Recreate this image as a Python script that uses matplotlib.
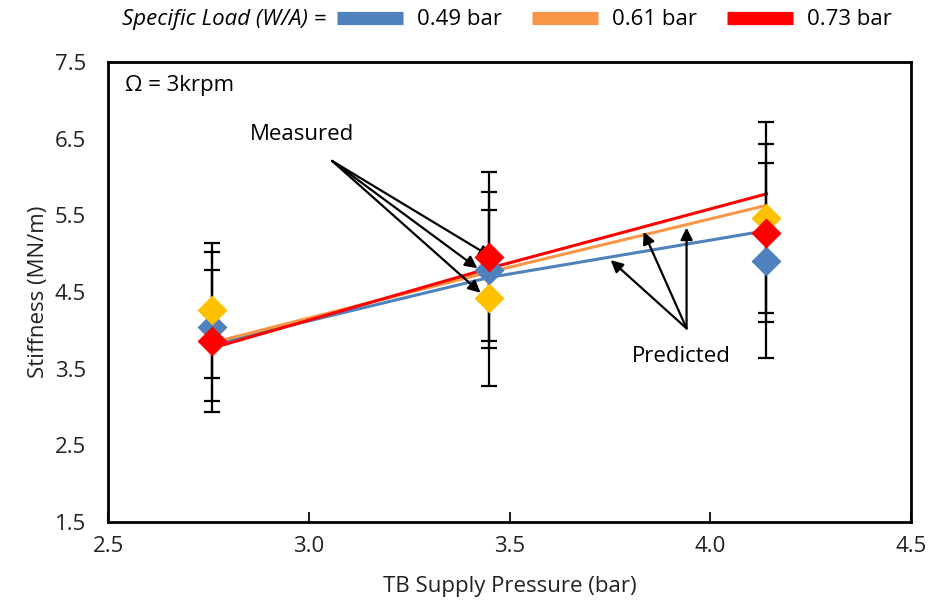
import matplotlib
matplotlib.use("Agg")
import matplotlib.pyplot as plt
from matplotlib.lines import Line2D

plt.rcParams['font.family'] = ['Open Sans', 'DejaVu Sans']

# supply pressure (bar)
pressure = [2.76, 3.45, 4.14]
loads = ['0.49 bar', '0.61 bar', '0.73 bar']

# measured stiffness (MN/m) and uncertainty
meas_049 = [4.05, 4.79, 4.91]
meas_061 = [4.26, 4.42, 5.47]
meas_073 = [3.86, 4.96, 5.27]
err_049 = [0.97, 1.02, 1.27]
err_061 = [0.88, 1.15, 1.25]
err_073 = [0.93, 1.10, 1.16]

# predicted stiffness (MN/m)
pred_049 = [3.82, 4.69, 5.30]
pred_061 = [3.84, 4.76, 5.63]
pred_073 = [3.77, 4.81, 5.78]

line_cols = ['#4F81BD', '#F79646', '#FF0000']
mark_cols = ['#4F81BD', '#FFC000', '#FF0000']

fig = plt.figure(figsize=(9.33, 6.05), dpi=100)
ax = fig.add_axes([0.1158, 0.1372, 0.8606, 0.7603])

# predicted lines
for p, c in zip([pred_049, pred_061, pred_073], line_cols):
    ax.plot(pressure, p, color=c, lw=2.2, zorder=2)

# measured points with error bars
for m, e, c in zip([meas_049, meas_061, meas_073], [err_049, err_061, err_073], mark_cols):
    ax.errorbar(pressure, m, yerr=e, fmt='none', ecolor='black', elinewidth=1.6,
                capsize=6, capthick=1.6, zorder=3)
for m, c in zip([meas_049, meas_061, meas_073], mark_cols):
    ax.plot(pressure, m, 'D', color=c, ms=15, mec='none', zorder=4)

ax.set_xlim(2.5, 4.5)
ax.set_ylim(1.5, 7.5)
ax.set_xticks([2.5, 3.0, 3.5, 4.0, 4.5])
ax.set_xticklabels(['2.5', '3.0', '3.5', '4.0', '4.5'])
ax.set_yticks([1.5, 2.5, 3.5, 4.5, 5.5, 6.5, 7.5])
ax.tick_params(axis='x', direction='in', length=7, width=1.5, labelsize=16, pad=10, colors='#222222')
ax.tick_params(axis='y', length=0, labelsize=16, pad=16, colors='#222222')
for s in ax.spines.values():
    s.set_linewidth(2)
ax.set_xlabel('TB Supply Pressure (bar)', fontsize=16, labelpad=14, color='#222222')
ax.set_ylabel('Stiffness (MN/m)', fontsize=16, labelpad=4, color='#222222')

ax.text(0.021, 0.95, 'Ω = 3krpm', transform=ax.transAxes, fontsize=16, va='center', ha='left')

# annotations
arrow = dict(arrowstyle='-|>', color='black', lw=1.6, mutation_scale=18, shrinkA=0, shrinkB=0)
ax.text(2.984, 6.56, 'Measured', fontsize=16, ha='center', va='center')
for hx, hy in [(3.455, 4.955), (3.42, 4.81), (3.428, 4.49)]:
    ax.annotate('', xy=(hx, hy), xytext=(3.058, 6.21), arrowprops=arrow)
ax.text(3.929, 3.66, 'Predicted', fontsize=16, ha='center', va='center')
for hx, hy in [(3.752, 4.916), (3.834, 5.285), (3.941, 5.34)]:
    ax.annotate('', xy=(hx, hy), xytext=(3.941, 4.025), arrowprops=arrow)

# legend on top
fig.text(0.350, 0.967, 'Specific Load (W/A) =', fontsize=16, style='italic',
         ha='right', va='center')
handles = [Line2D([0], [0], color=c, lw=9.5, solid_capstyle='butt') for c in line_cols]
fig.legend(handles, loads, loc='center left', bbox_to_anchor=(0.361, 0.967), ncol=3,
           frameon=False, fontsize=16, handlelength=3.0, handletextpad=0.6,
           columnspacing=1.35, borderpad=0, borderaxespad=0)

fig.savefig('out.png', dpi=100)
